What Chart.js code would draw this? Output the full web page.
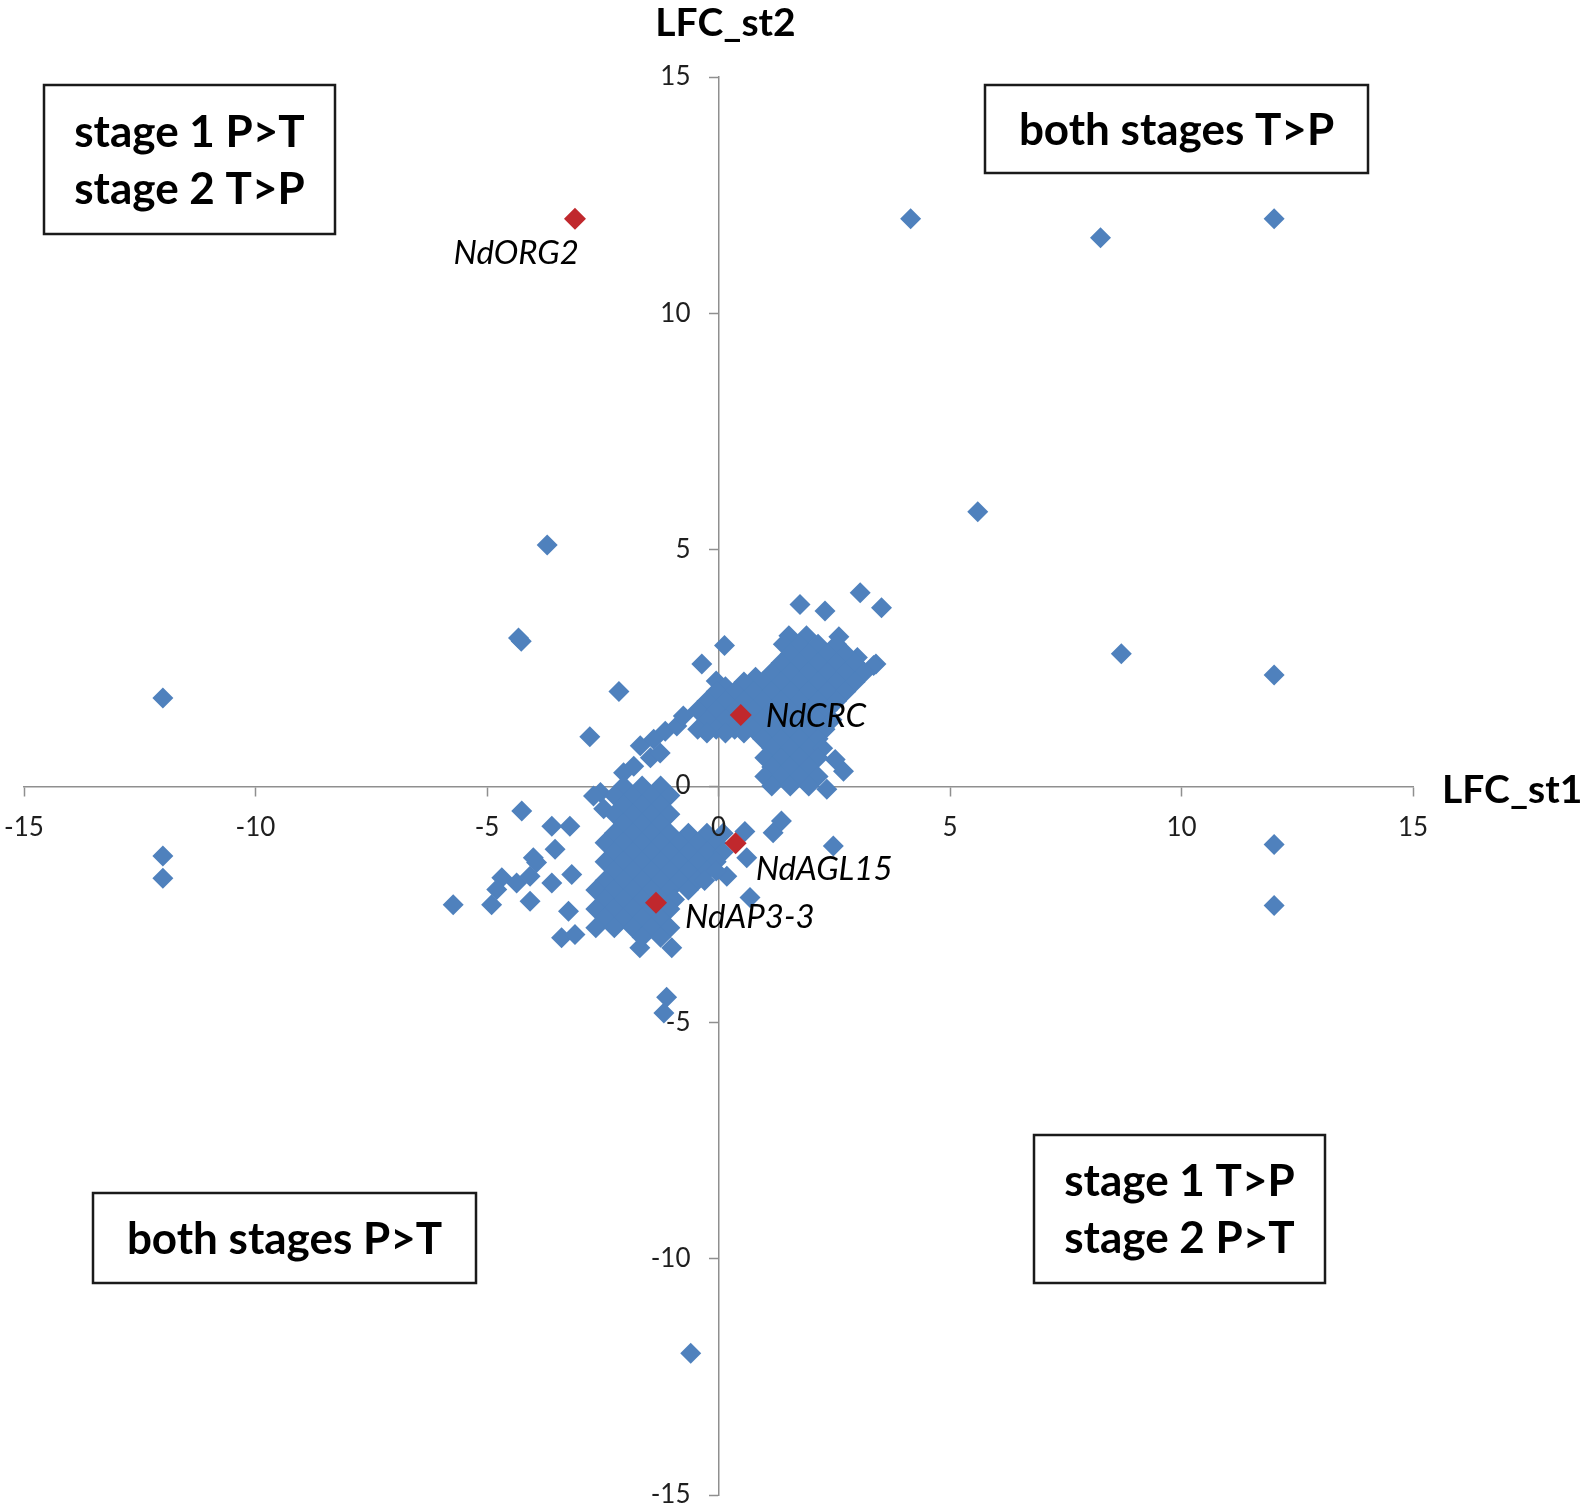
<!DOCTYPE html>
<html>
<head>
<meta charset="utf-8">
<title>LFC_st1 vs LFC_st2</title>
<script src="https://cdn.jsdelivr.net/npm/chart.js@4.4.1/dist/chart.umd.min.js"></script>
<style>
  html, body { margin: 0; padding: 0; background: #fff; }
  #wrap { width: 1590px; height: 1512px; }
</style>
</head>
<body>
<div id="wrap"><canvas id="scatter" width="1590" height="1512"></canvas></div>
<script>
// log2 fold change, stage 1 (x) against stage 2 (y)
const axisTicks = [-15, -10, -5, 0, 5, 10, 15];

// isolated genes away from the main cloud
const outlierPts = [
  [4.15, 12], [8.25, 11.6], [12, 12], [5.6, 5.8], [-3.7, 5.1],
  [8.7, 2.8], [12, 2.35], [-4.32, 3.13], [-4.26, 3.06], [-12, 1.86],
  [-12, -1.48], [-12, -1.95], [12, -1.24], [12, -2.53], [-0.6, -12],
  [-1.12, -4.47], [-1.18, -4.8], [-2.15, 2.0], [-2.78, 1.04],
  [0.13, 2.97], [-0.36, 2.58], [-0.05, 2.22],
  [1.76, 3.84], [2.3, 3.7], [3.06, 4.09], [3.52, 3.77],
  [1.52, 3.18], [1.9, 3.18], [2.6, 3.16], [3.0, 2.72], [3.4, 2.58],
  [2.52, 0.56], [2.7, 0.31], [2.34, -0.07],
  [0.57, -0.96], [1.18, -0.99], [1.36, -0.74], [0.61, -1.52],
  [2.48, -1.27], [0.68, -2.36], [0.18, -1.91],
  [-4.25, -0.53], [-3.6, -0.85], [-3.21, -0.85], [-4.0, -1.52],
  [-3.53, -1.34], [-3.93, -1.62], [-4.68, -1.94], [-4.36, -2.05],
  [-4.07, -1.91], [-3.6, -2.05], [-3.17, -1.87], [-4.79, -2.19],
  [-4.9, -2.51], [-5.73, -2.51], [-4.07, -2.44], [-3.24, -2.65],
  [-3.39, -3.21], [-3.1, -3.14], [-1.7, -3.42], [-1.01, -3.42]
];

// chain of genes between the two dense groups
const bridgePts = [
  [-2.05, 0.28], [-1.83, 0.42], [-1.69, 0.85], [-1.4, 0.99], [-1.47, 0.6],
  [-1.26, 0.7], [-1.15, 1.16], [-0.9, 1.27], [-0.76, 1.48],
  [-2.55, -0.14], [-2.7, -0.21], [-2.48, -0.48]
];

// dense group, both stages T>P
const upperCloud = [
  [1.4, 3.0], [1.75, 3.0], [2.15, 3.0], [2.55, 3.0],
  [1.55, 2.8], [1.95, 2.8], [2.35, 2.8], [2.75, 2.8],
  [1.35, 2.6], [1.75, 2.6], [2.15, 2.6], [2.55, 2.6], [2.95, 2.6], [3.35, 2.55],
  [0.8, 2.3], [1.15, 2.4], [1.55, 2.4], [1.95, 2.4], [2.35, 2.4], [2.75, 2.4], [3.15, 2.4],
  [0.15, 2.1], [0.55, 2.2], [0.95, 2.2], [1.35, 2.2], [1.75, 2.2], [2.15, 2.2], [2.55, 2.2], [2.95, 2.2],
  [-0.05, 2.0], [0.35, 2.0], [0.75, 2.0], [1.15, 2.0], [1.55, 2.0], [1.95, 2.0], [2.35, 2.0], [2.75, 2.0],
  [-0.25, 1.8], [0.15, 1.8], [0.55, 1.8], [0.95, 1.8], [1.35, 1.8], [1.75, 1.8], [2.15, 1.8], [2.55, 1.8],
  [-0.45, 1.6], [-0.05, 1.6], [0.35, 1.6], [0.75, 1.6], [1.15, 1.6], [1.55, 1.6], [1.95, 1.6], [2.35, 1.6],
  [-0.25, 1.4], [0.15, 1.4], [0.55, 1.4], [0.95, 1.4], [1.35, 1.4], [1.75, 1.4], [2.15, 1.4], [2.45, 1.4],
  [-0.45, 1.2], [-0.05, 1.2], [0.35, 1.2], [0.75, 1.2], [1.15, 1.2], [1.55, 1.2], [1.95, 1.2], [2.3, 1.2],
  [-0.25, 1.12], [0.15, 1.12], [0.55, 1.12], [0.95, 1.0], [1.35, 1.0], [1.75, 1.0], [2.15, 1.0],
  [1.15, 0.8], [1.55, 0.8], [1.95, 0.8], [2.25, 0.8],
  [1.0, 0.6], [1.35, 0.6], [1.75, 0.6], [2.15, 0.6],
  [1.15, 0.4], [1.55, 0.4], [1.95, 0.4],
  [1.0, 0.2], [1.35, 0.2], [1.75, 0.2], [2.15, 0.2],
  [1.15, 0.0], [1.55, 0.0], [1.95, 0.0]
];

// dense group, both stages P>T
const lowerCloud = [
  [-2.05, 0.0], [-1.65, 0.0], [-1.25, 0.0],
  [-2.25, -0.2], [-1.85, -0.2], [-1.45, -0.2], [-1.05, -0.2],
  [-2.05, -0.4], [-1.65, -0.4], [-1.25, -0.4],
  [-2.25, -0.6], [-1.85, -0.6], [-1.45, -0.6], [-1.05, -0.6],
  [-2.05, -0.8], [-1.65, -0.8], [-1.25, -0.8],
  [-2.25, -1.0], [-1.85, -1.0], [-1.45, -1.0], [-1.05, -1.0], [-0.65, -1.0], [-0.25, -1.0], [0.1, -1.0],
  [-2.45, -1.2], [-2.05, -1.2], [-1.65, -1.2], [-1.25, -1.2], [-0.85, -1.2], [-0.45, -1.2], [-0.05, -1.2],
  [-2.25, -1.4], [-1.85, -1.4], [-1.45, -1.4], [-1.05, -1.4], [-0.65, -1.4], [-0.25, -1.4], [0.1, -1.4],
  [-2.45, -1.6], [-2.05, -1.6], [-1.65, -1.6], [-1.25, -1.6], [-0.85, -1.6], [-0.45, -1.6], [-0.05, -1.6],
  [-2.25, -1.8], [-1.85, -1.8], [-1.45, -1.8], [-1.05, -1.8], [-0.65, -1.8], [-0.25, -1.8], [-0.05, -1.8],
  [-2.45, -2.0], [-2.05, -2.0], [-1.65, -2.0], [-1.25, -2.0], [-0.85, -2.0], [-0.45, -2.0], [-0.3, -2.0],
  [-2.65, -2.2], [-2.25, -2.2], [-1.85, -2.2], [-1.45, -2.2], [-1.05, -2.2], [-0.65, -2.2],
  [-2.45, -2.4], [-2.05, -2.4], [-1.65, -2.4], [-1.25, -2.4], [-0.95, -2.4],
  [-2.65, -2.6], [-2.25, -2.6], [-1.85, -2.6], [-1.45, -2.6], [-1.05, -2.6],
  [-2.45, -2.8], [-2.05, -2.8], [-1.65, -2.8], [-1.25, -2.8],
  [-2.65, -3.0], [-2.25, -3.0], [-1.85, -3.0], [-1.45, -3.0], [-1.05, -3.0],
  [-1.65, -3.2], [-1.25, -3.2]
];

// highlighted genes
const geneNames = ["NdORG2", "NdCRC", "NdAGL15", "NdAP3-3"];
const geneSt1 = [-3.1, 0.48, 0.37, -1.35];
const geneSt2 = [12.0, 1.5, -1.21, -2.47];

const allOther = outlierPts.concat(bridgePts, upperCloud, lowerCloud)
  .map(p => ({ x: p[0], y: p[1] }));
const genePts = geneNames.map((n, i) => ({ x: geneSt1[i], y: geneSt2[i] }));

// label placement relative to each gene marker (px)
const geneLabelPos = [
  { dx: 4, dy: 45, align: "right" },
  { dx: 25, dy: 12, align: "left" },
  { dx: 20, dy: 37, align: "left" },
  { dx: 29, dy: 25, align: "left" }
];

const quadrantBoxes = [
  { lines: ["stage 1 P>T", "stage 2 T>P"], x: 44, y: 85, w: 291, h: 149 },
  { lines: ["both stages T>P"], x: 985, y: 85, w: 383, h: 88 },
  { lines: ["both stages P>T"], x: 93, y: 1193, w: 383, h: 90 },
  { lines: ["stage 1 T>P", "stage 2 P>T"], x: 1034, y: 1135, w: 291, h: 148 }
];

const fontFam = "Lato, 'Open Sans', sans-serif";
const axisGray = "#8f8f8f";

const annotations = {
  id: "annotations",
  afterDraw(chart) {
    const ctx = chart.ctx;
    const xs = chart.scales.x, ys = chart.scales.y;
    ctx.save();

    // axis titles
    ctx.fillStyle = "#000";
    ctx.font = "bold 39px " + fontFam;
    ctx.textBaseline = "alphabetic";
    ctx.textAlign = "center";
    ctx.fillText("LFC_st2", xs.getPixelForValue(0) + 7, 36);
    ctx.textAlign = "left";
    ctx.fillText("LFC_st1", chart.chartArea.right + 29, ys.getPixelForValue(0) + 17);

    // gene labels
    ctx.font = "italic 33px " + fontFam;
    geneNames.forEach((name, i) => {
      const pos = geneLabelPos[i];
      ctx.textAlign = pos.align;
      ctx.fillText(name, xs.getPixelForValue(geneSt1[i]) + pos.dx,
        ys.getPixelForValue(geneSt2[i]) + pos.dy);
    });

    // quadrant boxes
    ctx.font = "bold 44px " + fontFam;
    ctx.textAlign = "center";
    quadrantBoxes.forEach(b => {
      ctx.fillStyle = "#fff";
      ctx.fillRect(b.x, b.y, b.w, b.h);
      ctx.lineWidth = 2.5;
      ctx.strokeStyle = "#1a1a1a";
      ctx.strokeRect(b.x, b.y, b.w, b.h);
      ctx.fillStyle = "#000";
      const cx = b.x + b.w / 2, cy = b.y + b.h / 2;
      b.lines.forEach((t, i) => {
        ctx.fillText(t, cx, cy + 15.5 + (i - (b.lines.length - 1) / 2) * 57);
      });
    });
    ctx.restore();
  }
};

function axisOpts(labelPad) {
  return {
    type: "linear",
    min: -15,
    max: 15,
    // symmetric range, so the centre of the plot is the origin
    position: "center",
    afterBuildTicks: s => { s.ticks = axisTicks.map(v => ({ value: v })); },
    // axes sit inside the plot; don't let their labels shrink it
    afterFit: s => { s.paddingLeft = s.paddingRight = s.paddingTop = s.paddingBottom = 0; },
    ticks: {
      z: 1,
      color: "#1e1e1e",
      font: { family: fontFam, size: 26 },
      padding: labelPad
    },
    grid: {
      drawOnChartArea: false,
      drawTicks: true,
      tickLength: 9,
      tickColor: axisGray,
      tickWidth: 1.5
    },
    border: { color: axisGray, width: 1.5 }
  };
}

new Chart(document.getElementById("scatter"), {
  type: "scatter",
  data: {
    datasets: [
      {
        label: "highlighted",
        data: genePts,
        order: 0,
        pointStyle: "rectRot",
        pointRadius: 11,
        backgroundColor: "#c0282d",
        borderColor: "#c0282d",
        borderWidth: 0
      },
      {
        label: "genes",
        data: allOther,
        order: 1,
        pointStyle: "rectRot",
        pointRadius: 10.5,
        backgroundColor: "#4f81bd",
        borderColor: "#4f81bd",
        borderWidth: 0
      }
    ]
  },
  options: {
    responsive: false,
    animation: false,
    devicePixelRatio: 1,
    layout: { padding: { left: 24, right: 177, top: 77, bottom: 17 } },
    plugins: {
      legend: { display: false },
      tooltip: { enabled: false }
    },
    scales: {
      x: axisOpts(17),
      y: axisOpts(19)
    }
  },
  plugins: [annotations]
});
</script>
</body>
</html>
